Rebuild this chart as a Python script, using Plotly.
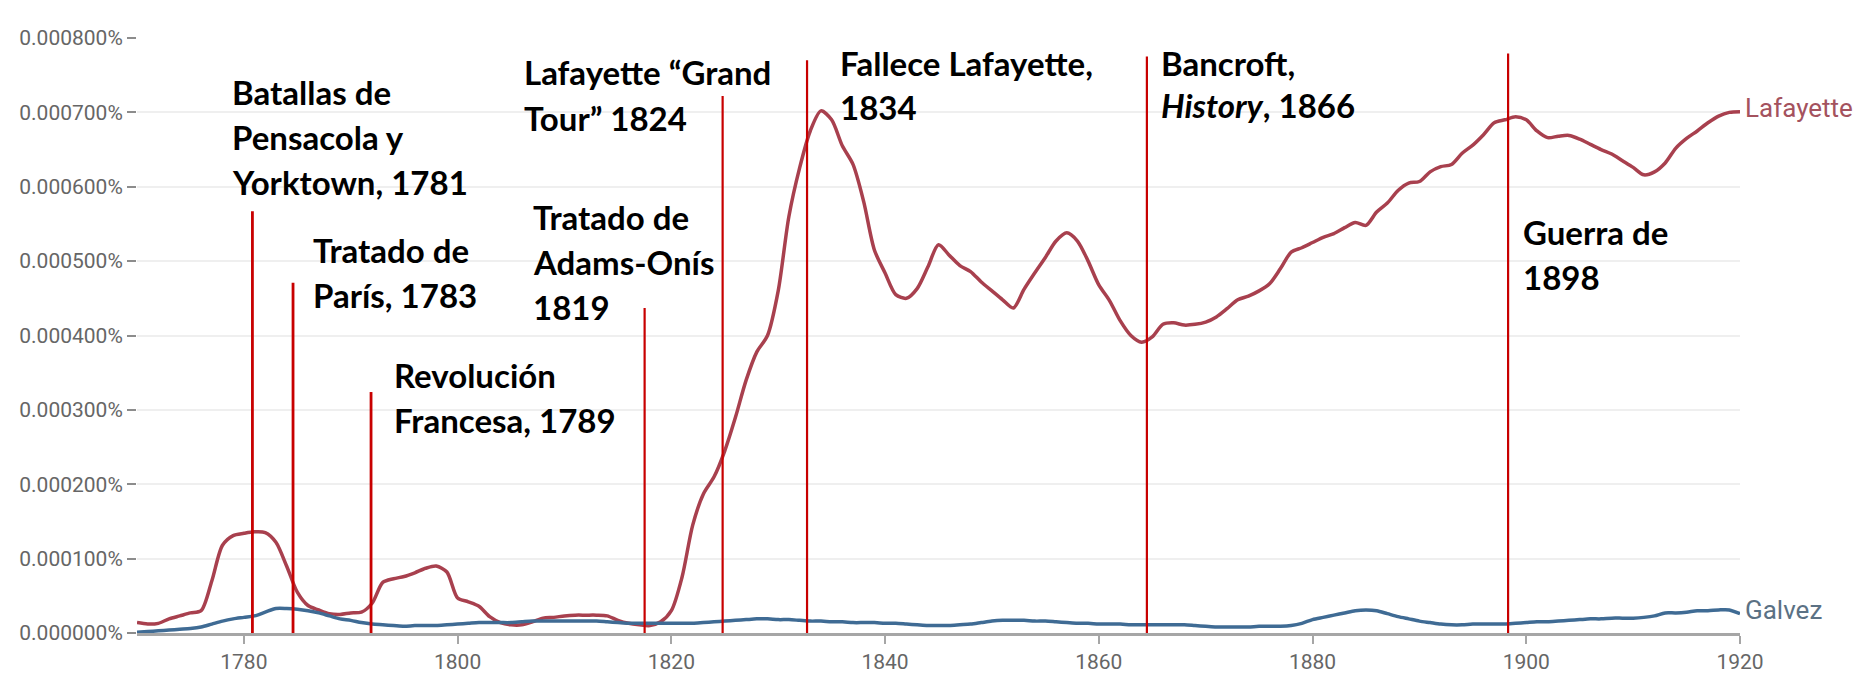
import plotly.graph_objects as go

# ---------------- data (values in millionths of a percent) ----------------
YEARS = list(range(1770, 1921))

LAFAYETTE = [
    14, 12, 13, 19, 23, 27, 30, 70, 118, 131,
    134, 136, 135, 122, 90, 55, 37, 31, 26, 25,
    27, 28, 40, 68, 73, 76, 81, 87, 90, 82,
    47, 42, 36, 22, 14, 11, 11, 15, 20, 21,
    23, 24, 24, 24, 23, 17, 13, 11, 10, 15,
    30, 75, 145, 187, 210, 245, 290, 340, 378, 400,
    460, 560, 625, 675, 702, 690, 655, 630, 580, 515,
    484, 455, 450, 463, 492, 522, 508, 494, 486, 472,
    460, 448, 437, 462, 484, 505, 527, 538, 527, 500,
    468, 447, 420, 400, 391, 398, 415, 417, 414, 415,
    418, 425, 436, 448, 453, 460, 470, 490, 512, 518,
    525, 532, 537, 545, 552, 548, 566, 578, 595, 605,
    607, 620, 627, 630, 645, 656, 670, 686, 690, 694,
    690, 675, 666, 668, 669, 664, 657, 650, 644, 635,
    626, 616, 620, 632, 652, 665, 675, 686, 695, 700,
    701,
]

GALVEZ = [
    1, 2, 3, 4, 5, 6, 8, 12, 16, 19,
    21, 23, 28, 33, 33, 32, 30, 27, 23, 19,
    17, 14, 12, 11, 10, 9, 10, 10, 10, 11,
    12, 13, 14, 14, 14, 14, 15, 16, 16, 16,
    16, 16, 16, 16, 15, 14, 13, 13, 13, 13,
    13, 13, 13, 14, 15, 16, 17, 18, 19, 19,
    18, 18, 17, 16, 16, 15, 15, 14, 14, 14,
    13, 13, 12, 11, 10, 10, 10, 11, 12, 14,
    16, 17, 17, 17, 16, 16, 15, 14, 13, 13,
    12, 12, 12, 11, 11, 11, 11, 11, 11, 10,
    9, 8, 8, 8, 8, 9, 9, 9, 10, 13,
    18, 21, 24, 27, 30, 31, 30, 26, 22, 19,
    16, 14, 12, 11, 11, 12, 12, 12, 12, 13,
    14, 15, 15, 16, 17, 18, 19, 19, 20, 20,
    20, 21, 23, 27, 27, 28, 30, 30, 31, 31,
    26,
]

SERIES_NAMES = ["Lafayette", "Galvez"]

# event marker lines: year position and top (millionths of a percent)
EVENT_YEARS = [1780.8, 1784.6, 1791.9, 1817.5, 1824.8, 1832.7, 1864.5, 1898.3]
EVENT_TOPS = [567, 471, 324, 437, 722, 770, 775, 779]

# event texts: (year, value, text) one entry per text line
EVENT_TEXTS = [
    (1778.7, 727, "Batallas de"),
    (1778.7, 667, "Pensacola y"),
    (1778.7, 606, "Yorktown, 1781"),
    (1786.3, 515, "Tratado de"),
    (1786.3, 454, "París, 1783"),
    (1793.9, 347, "Revolución"),
    (1793.9, 286, "Francesa, 1789"),
    (1806.9, 559, "Tratado de"),
    (1806.9, 499, "Adams-Onís"),
    (1806.9, 438, "1819"),
    (1806.0, 754, "Lafayette “Grand"),
    (1806.0, 692, "Tour” 1824"),
    (1835.6, 767, "Fallece Lafayette,"),
    (1835.6, 707, "1834"),
    (1865.6, 767, "Bancroft,"),
    (1865.6, 710, "<i>History</i>, 1866"),
    (1899.5, 539, "Guerra de"),
    (1899.5, 479, "1898"),
]

Y_TICKS = [0, 100, 200, 300, 400, 500, 600, 700, 800]
X_TICKS = [1780, 1800, 1820, 1840, 1860, 1880, 1900, 1920]

SCALE = 1e-6  # millionths of a percent -> percent

# ---------------- figure ----------------
LINE_COLORS = {"Lafayette": "#a8404e", "Galvez": "#3f6b94"}
LABEL_COLORS = {"Lafayette": "#a4525e", "Galvez": "#5b7184"}

fig = go.Figure()
for name, vals in zip(SERIES_NAMES, [LAFAYETTE, GALVEZ]):
    fig.add_trace(go.Scatter(
        x=YEARS, y=[v * SCALE for v in vals], mode="lines", name=name,
        line=dict(color=LINE_COLORS[name], width=3.5, shape="spline", smoothing=0.8),
        showlegend=False, hoverinfo="skip",
    ))

# end-of-series labels
for name, vals in zip(SERIES_NAMES, [LAFAYETTE, GALVEZ]):
    fig.add_annotation(
        x=YEARS[-1], y=vals[-1] * SCALE, xref="x", yref="y",
        text=name, showarrow=False, xanchor="left", yanchor="middle",
        xshift=3, yshift=4,
        font=dict(family="Roboto", size=26, color=LABEL_COLORS[name]),
    )

# event vertical lines
for i, (yr, top) in enumerate(zip(EVENT_YEARS, EVENT_TOPS)):
    fig.add_shape(
        type="line", xref="x", yref="y",
        x0=yr, x1=yr, y0=0, y1=top * SCALE,
        line=dict(color="#c80000", width=2.8 if i < 3 else 2.2),
        layer="above",
    )

for yr, val, txt in EVENT_TEXTS:
    fig.add_annotation(
        x=yr, y=val * SCALE, xref="x", yref="y", text=txt,
        showarrow=False, xanchor="left", yanchor="middle",
        font=dict(family="Lato", size=33, color="#000000", weight=700),
    )

fig.update_xaxes(
    range=[1770, 1920], tickvals=X_TICKS,
    ticktext=[str(t) for t in X_TICKS],
    showgrid=False, zeroline=False,
    showline=True, linecolor="#a6a6a6", linewidth=3,
    ticks="outside", ticklen=8, tickwidth=2, tickcolor="#a6a6a6",
    tickfont=dict(family="Roboto", size=21, color="#666666"),
)
fig.update_yaxes(
    range=[0, 800 * SCALE], tickvals=[t * SCALE for t in Y_TICKS],
    ticktext=[f"{t * SCALE:.6f}%" for t in Y_TICKS],
    showgrid=True, gridcolor="#efefef", gridwidth=2,
    zeroline=False, showline=False,
    ticks="outside", ticklen=9, tickwidth=2, tickcolor="#8c8c8c",
    tickfont=dict(family="Roboto", size=21, color="#666666"),
)

fig.update_layout(
    width=1870, height=700, autosize=False,
    margin=dict(l=137, r=130, t=38, b=67),
    paper_bgcolor="white", plot_bgcolor="white",
)

fig.write_html("out.html")
